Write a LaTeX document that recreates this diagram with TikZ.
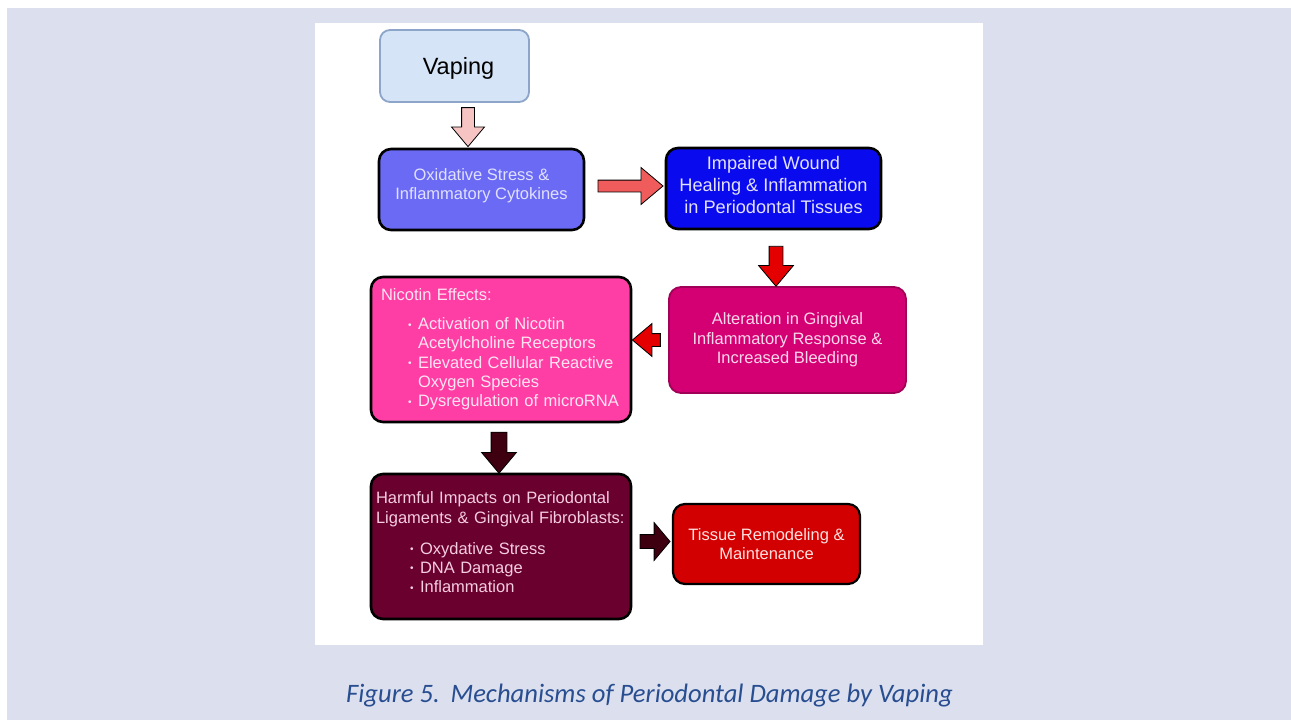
\documentclass[tikz,border=0pt]{standalone}
\usepackage{fontspec}
\setmainfont{Liberation Sans}
\newfontfamily\capfont{Carlito}
\usetikzlibrary{shapes.arrows,calc}
\definecolor{pagebg}{RGB}{220,224,238}
\definecolor{vapfill}{RGB}{213,228,247}
\definecolor{vapdraw}{RGB}{140,165,200}
\definecolor{oxfill}{RGB}{106,106,245}
\definecolor{oxtext}{RGB}{225,225,255}
\definecolor{impfill}{RGB}{10,10,238}
\definecolor{imptext}{RGB}{225,225,255}
\definecolor{altfill}{RGB}{212,0,115}
\definecolor{altdraw}{RGB}{160,0,85}
\definecolor{alttext}{RGB}{252,215,235}
\definecolor{nicfill}{RGB}{255,62,165}
\definecolor{nictext}{RGB}{255,228,242}
\definecolor{harfill}{RGB}{105,0,45}
\definecolor{hartext}{RGB}{245,205,225}
\definecolor{tisfill}{RGB}{210,0,0}
\definecolor{tistext}{RGB}{255,225,225}
\definecolor{arrpink}{RGB}{247,196,196}
\definecolor{arrsalmon}{RGB}{240,92,92}
\definecolor{arrred}{RGB}{228,0,0}
\definecolor{arrdark}{RGB}{62,0,16}
\definecolor{capblue}{RGB}{40,78,145}
\newcommand\bulpt{\makebox[10pt][l]{\fontsize{10}{10}\selectfont\raisebox{1.5pt}{•}}}
\tikzset{
  box/.style={rectangle, rounded corners=12pt, align=center, inner sep=0pt,
    line width=2.6pt, draw=black, font=\fontsize{16.5}{19.3}\selectfont},
  blockarrow/.style={single arrow, draw=black, line width=0.8pt, inner xsep=0pt,
    single arrow head indent=0pt, single arrow tip angle=80},
}
\begin{document}
\begin{tikzpicture}[x=1pt,y=-1pt]
\useasboundingbox (0,0) rectangle (1291,720);
\fill[white] (0,0) rectangle (1291,720);
\fill[pagebg] (7,8) rectangle (1291,720);
\fill[white] (315,23) rectangle (983,645);

\node[box, rounded corners=10pt, fill=vapfill, draw=vapdraw, line width=1.8pt,
  minimum width=149pt, minimum height=72pt, font=\fontsize{23.5}{26}\selectfont]
  (vap) at (454.5,66) {\hspace*{8pt}\raisebox{-2.5pt}[\height][\depth]{Vaping}};

\node[box, fill=oxfill, text=oxtext, minimum width=205pt, minimum height=81pt]
  (ox) at (481.5,189.5) {Oxidative Stress \&\\Inflammatory Cytokines\\[-9pt]\mbox{}};

\node[box, fill=impfill, text=imptext, minimum width=215pt, minimum height=81pt,
  font=\fontsize{18.2}{22}\selectfont]
  (imp) at (773.5,188.5) {Impaired Wound\\Healing \& Inflammation\\in Periodontal Tissues\\[-14pt]\mbox{}};

\node[box, fill=altfill, draw=altdraw, line width=1.8pt, text=alttext,
  minimum width=237pt, minimum height=106pt]
  (alt) at (787.5,340) {Alteration in Gingival\\Inflammatory Response \&\\Increased Bleeding};

\node[box, fill=nicfill, text=nictext, minimum width=260pt, minimum height=145pt,
  align=left, text width=244pt, inner xsep=8pt]
  (nic) at (501,349.5) {\hspace*{2pt}Nicotin Effects:\\[9.5pt]
  \hspace*{29pt}\bulpt Activation of Nicotin\\
  \hspace*{39pt}Acetylcholine Receptors\\
  \hspace*{29pt}\bulpt Elevated Cellular Reactive\\
  \hspace*{39pt}Oxygen Species\\
  \hspace*{29pt}\bulpt Dysregulation of microRNA};

\node[box, fill=harfill, text=hartext, minimum width=260pt, minimum height=145pt,
  align=left, text width=250pt, inner xsep=5pt]
  (har) at (501,546.5) {Harmful Impacts on Periodontal\\
  Ligaments \& Gingival Fibroblasts:\\[11.5pt]
  \hspace*{34pt}\bulpt Oxydative Stress\\
  \hspace*{34pt}\bulpt DNA Damage\\
  \hspace*{34pt}\bulpt Inflammation\\[-11pt]\mbox{}};

\node[box, fill=tisfill, text=tistext, line width=2.2pt, minimum width=187pt, minimum height=80pt]
  (tis) at (766.5,544) {Tissue Remodeling \&\\Maintenance};

\node[blockarrow, fill=arrpink, rotate=-90, inner ysep=6pt, single arrow head extend=10pt,
  minimum height=39pt] (a1) at ($(vap.south)!0.5!(ox.north)+(0,-2)$) {};
\node[blockarrow, fill=arrsalmon, inner ysep=5.5pt, single arrow head extend=12.5pt,
  minimum height=65pt] (a2) at ($(ox.east)!0.5!(imp.west)+(2,-3)$) {};
\node[blockarrow, fill=arrred, rotate=-90, inner ysep=6.5pt, single arrow head extend=10.5pt,
  minimum height=40pt] (a3) at ($(imp.south)!0.5!(imp.south |- alt.north)+(2.5,4)$) {};
\node[blockarrow, fill=arrred, rotate=180, inner ysep=6pt, single arrow head extend=10pt,
  minimum height=28pt] (a4) at ($(alt.west)!0.5!(alt.west -| nic.east)$) {};
\node[blockarrow, fill=arrdark, rotate=-90, inner ysep=7.5pt, single arrow head extend=9.5pt,
  minimum height=41pt] (a5) at ($(nic.south)!0.5!(har.north)+(-2,0)$) {};
\node[blockarrow, fill=arrdark, inner ysep=6.5pt, single arrow head extend=12pt,
  single arrow tip angle=100, minimum height=30pt]
  (a6) at ($(har.east |- tis.west)!0.5!(tis.west)+(0,-2.5)$) {};

\node[font=\capfont\itshape\fontsize{26.6}{30}\selectfont, text=capblue, inner sep=0pt,
  anchor=base] (cap) at (649.5,702) {Figure 5.\hspace{0.4em}Mechanisms of Periodontal Damage by Vaping};
\end{tikzpicture}
\end{document}
